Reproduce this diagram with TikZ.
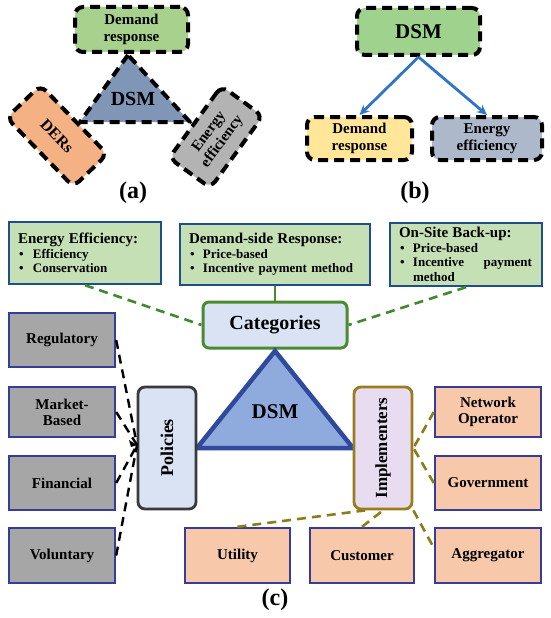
\documentclass[tikz,border=0pt]{standalone}
\usepackage{fontspec}
\setmainfont{Liberation Serif}
\usetikzlibrary{arrows.meta,calc}
\newcommand{\fsz}[2]{\fontsize{#1}{#2}\selectfont}
\definecolor{aGreen}{HTML}{A9D18E}
\definecolor{aBlue}{HTML}{8096B6}
\definecolor{aOrange}{HTML}{F4B183}
\definecolor{aGray}{HTML}{B3B3B3}
\definecolor{bGreen}{HTML}{9FD38D}
\definecolor{bYellow}{HTML}{FFE699}
\definecolor{bBlue}{HTML}{ADB9CA}
\definecolor{bArrow}{HTML}{2E75C8}
\definecolor{cGreenFill}{HTML}{C5E0B4}
\definecolor{cNavy}{HTML}{1F4E8C}
\definecolor{cLight}{HTML}{DAE3F3}
\definecolor{cCatBorder}{HTML}{4A8A32}
\definecolor{cTriFill}{HTML}{8FAADC}
\definecolor{cTriBorder}{HTML}{2F4A9C}
\definecolor{cPolBorder}{HTML}{3A3A3A}
\definecolor{cImpFill}{HTML}{E8DCF0}
\definecolor{cOlive}{HTML}{9A7D1E}
\definecolor{cGrayBox}{HTML}{A6A6A6}
\definecolor{cBoxBorder}{HTML}{353C9A}
\definecolor{cPeach}{HTML}{F7C9AA}
\definecolor{cDashGreen}{HTML}{3F8A2F}
\definecolor{cDashOlive}{HTML}{8C7D1A}
\begin{document}
\begin{tikzpicture}[x=1pt,y=-1pt,
  dbox/.style={draw=black, line width=4pt, dash pattern=on 10pt off 6pt, rounded corners=8pt,
    font=\fsz{15}{16.5}\bfseries, align=center, inner sep=2pt},
  panlabel/.style={font=\fsz{24}{26}\bfseries, inner sep=0pt},
  barrow/.style={draw=bArrow, line width=2.8pt, -{Stealth[length=10pt,width=9pt]}},
  infobox/.style={draw=cNavy, fill=cGreenFill, line width=2.4pt, align=left, inner xsep=9pt,
    font=\fsz{13}{14.5}\bfseries, anchor=center},
  catbox/.style={draw=cCatBorder, fill=cLight, line width=3pt, rounded corners=6pt,
    font=\fsz{20}{22}\bfseries},
  graybox/.style={draw=cBoxBorder, fill=cGrayBox, line width=2.4pt, font=\fsz{15}{16}\bfseries,
    align=center, minimum width=106pt, inner sep=1pt},
  peachbox/.style={draw=cBoxBorder, fill=cPeach, line width=2.4pt, font=\fsz{15}{16}\bfseries,
    align=center, inner sep=1pt},
  gdash/.style={draw=cDashGreen, line width=2.6pt, dash pattern=on 9pt off 6pt},
  kdash/.style={draw=black, line width=2.4pt, dash pattern=on 9pt off 6pt},
  odash/.style={draw=cDashOlive, line width=2.6pt, dash pattern=on 9pt off 6pt},
  tri/.style={line width=4pt, dash pattern=on 10pt off 6pt, line join=round}]
\useasboundingbox[fill=white] (0,0) rectangle (550,618);

% ---------------- panel (a)
\draw[tri, draw=black, fill=aBlue] (128,55) -- (80,122) -- (190,122) -- cycle;
\node[font=\fsz{20}{22}\bfseries, inner sep=0pt] (dsma) at (133,99) {DSM};
\node[dbox, fill=aGreen, minimum width=113pt, minimum height=45pt] (dra) at (131.5,29.5) {Demand\\response};
\node[dbox, fill=aOrange, minimum width=96pt, minimum height=47pt, rotate=-46, font=\fsz{16}{17}\bfseries] (dersa) at (57,136) {DERs};
\node[dbox, fill=aGray, minimum width=89pt, minimum height=51pt, rotate=54] (eea) at (216,137) {Energy\\efficiency};
\node[panlabel] (labA) at (133,193) {(a)};

% ---------------- panel (b)
\node[dbox, fill=bGreen, minimum width=123pt, minimum height=47pt, font=\fsz{21}{22}\bfseries] (dsmb) at (418.5,31.5) {DSM};
\node[dbox, fill=bYellow, minimum width=105pt, minimum height=43pt] (drb) at (359.5,138.5) {Demand\\response};
\node[dbox, fill=bBlue, minimum width=110pt, minimum height=43pt] (eeb) at (487,138.5) {Energy\\efficiency};
\draw[barrow] (dsmb.south) -- (drb.north);
\draw[barrow] (dsmb.south) -- (eeb.north);
\node[panlabel] (labB) at (415,193) {(b)};

% ---------------- panel (c) : categories
\node[infobox, minimum width=152pt, minimum height=62pt, text width=134pt] (eec) at (85,253)
  {{\fsz{15}{16}Energy Efficiency:}\\
   \hspace*{1pt}\makebox[14pt][l]{\textbullet}Efficiency\\
   \hspace*{1pt}\makebox[14pt][l]{\textbullet}Conservation};
\node[infobox, minimum width=190pt, minimum height=61pt, text width=172pt] (dsr) at (275,254.5)
  {{\fsz{15}{16}Demand-side Response:}\\
   \hspace*{1pt}\makebox[13pt][l]{\textbullet}Price-based\\
   \hspace*{1pt}\makebox[13pt][l]{\textbullet}Incentive payment method};
\node[infobox, minimum width=152pt, minimum height=63pt, text width=134pt] (osb) at (466,254.5)
  {{\fsz{15}{16}On-Site Back-up:}\\
   \hspace*{1pt}\makebox[13pt][l]{\textbullet}Price-based\\
   \hspace*{1pt}\makebox[13pt][l]{\textbullet}\makebox[119pt][s]{Incentive\hfill payment}\\
   \hspace*{14pt}method};
\node[catbox, minimum width=144pt, minimum height=46pt] (cat) at (275,325) {Categories};
\draw[draw=cCatBorder, line width=2.4pt] (dsr.south) -- (cat.north);
\draw[gdash] (eec.south) -- (cat.west);
\draw[gdash] (osb.south) -- (cat.east);

% DSM triangle
\draw[draw=cTriBorder, fill=cTriFill, line width=4.5pt, line join=miter] (275,351) -- (197,448) -- (353,448) -- cycle;
\node[font=\fsz{21}{22}\bfseries, inner sep=0pt] (dsmc) at (275,412) {DSM};

% policies
\node[draw=cPolBorder, fill=cLight, line width=2.8pt, rounded corners=7pt, minimum width=58pt,
  minimum height=122pt, font=\fsz{18}{19}\bfseries] (pol) at (167,448) {\rotatebox{90}{Policies}};
\node[graybox, minimum height=54pt] (reg) at (62,340) {Regulatory};
\node[graybox, minimum height=50pt] (mb) at (62,412) {Market-\\Based};
\node[graybox, minimum height=54pt] (fin) at (62,483) {Financial};
\node[graybox, minimum height=55pt] (vol) at (62,555.5) {Voluntary};
\coordinate (conv) at (137,445);
\draw[kdash] (reg.east) -- (conv);
\draw[kdash] (mb.east) -- (conv);
\draw[kdash] (fin.east) -- (conv);
\draw[kdash] (vol.east) -- (conv);
\fill[black] (conv) -- ++(-8,-5) -- ++(2,7) -- cycle;

% implementers
\node[draw=cOlive, fill=cImpFill, line width=2.8pt, rounded corners=7pt, minimum width=58pt,
  minimum height=122pt, font=\fsz{17}{18}\bfseries] (imp) at (383,448) {\rotatebox{90}{Implementers}};
\node[peachbox, minimum width=106pt, minimum height=50pt] (netop) at (488,412) {Network\\Operator};
\node[peachbox, minimum width=106pt, minimum height=54pt] (gov) at (488,483) {Government};
\node[peachbox, minimum width=106pt, minimum height=55pt] (agg) at (488,555.5) {Aggregator};
\node[peachbox, minimum width=105pt, minimum height=55pt] (util) at (237.5,555.5) {Utility};
\node[peachbox, minimum width=104pt, minimum height=55pt] (cust) at (362,555.5) {Customer};
\draw[odash] (netop.west) -- (imp.east);
\draw[odash] (gov.west) -- (imp.east);
\draw[odash] (imp.south east) -- (agg.172);
\draw[odash] (util.north) -- ($(imp.south)+(-18,0)$);
\draw[odash] (cust.north) -- (imp.south);

\node[panlabel] (labC) at (275,600) {(c)};
\end{tikzpicture}
\end{document}
